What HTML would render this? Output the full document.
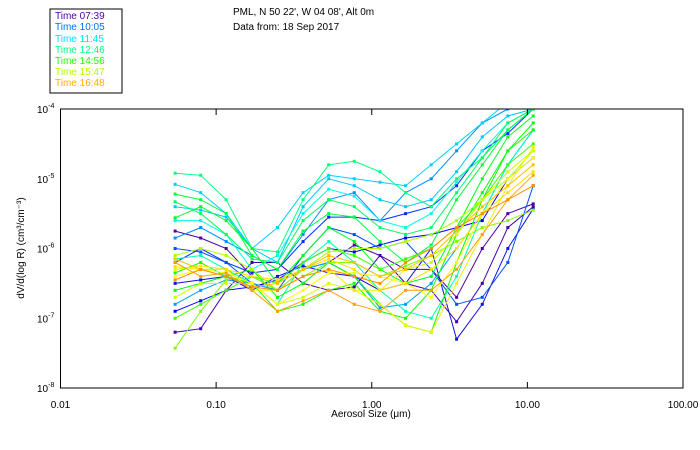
<!DOCTYPE html>
<html><head><meta charset="utf-8"><style>
body{margin:0;background:#fff;width:700px;height:450px;overflow:hidden}
svg{display:block;font-family:"Liberation Sans",sans-serif}
</style></head><body>
<svg id="chart" width="700" height="450">
<rect x="50" y="9" width="72" height="84" fill="none" stroke="#000"/>
<g font-size="10">
<text x="55" y="19" fill="#5000a0">Time 07:39</text>
<text x="55" y="30" fill="#0070ff">Time 10:05</text>
<text x="55" y="42" fill="#00e0ff">Time 11:45</text>
<text x="55" y="53" fill="#00ff80">Time 12:46</text>
<text x="55" y="64" fill="#20ff00">Time 14:56</text>
<text x="55" y="75" fill="#b0ff00">Time 15:47</text>
<text x="55" y="86" fill="#ffb000">Time 16:48</text>
</g>
<text x="233" y="15" font-size="10">PML, N 50 22', W 04 08', Alt 0m</text>
<text x="233" y="30" font-size="10">Data from: 18 Sep 2017</text>
<text transform="translate(24,248) rotate(-90)" text-anchor="middle" font-size="10">dV/d(log R) (cm³/cm⁻³)</text>
<text x="371" y="417" text-anchor="middle" font-size="10">Aerosol Size (μm)</text>
<defs><clipPath id="pc"><rect x="60" y="109" width="623" height="279"/></clipPath></defs>
<g id="series" clip-path="url(#pc)"></g>
<g id="axes"></g>
</svg>
<script>
const xTicks=[0.01,0.1,1,10,100];
const xTickLabels=["0.01","0.10","1.00","10.00","100.00"];
const yTicks=[-4,-5,-6,-7,-8];
const sizes=[0.0545,0.0796,0.116,0.170,0.248,0.362,0.529,0.772,1.13,1.65,2.41,3.51,5.13,7.49,10.9];
const colors=["#5000a0","#4000b0","#0000ff","#1010e0","#0030ff","#0050ff","#0090ff","#00a0ff","#00d0ff","#00c8ff","#00ffe0","#00ffb0","#00ff80","#00ff60","#00ff40","#00ff20","#00ff00","#10ff00","#40ff00","#80ff00","#b0ff00","#d0ff00","#ffff00","#f0f000","#ffe000","#ffc000","#ffa000","#ff9000"];
const s01=[-5.75,-5.85,-6.0,-6.4,-6.6,-6.3,-6.2,-5.95,-6.1,-6.3,-6.3,-6.7,-6.0,-5.5,-5.36];
const s02=[-7.2,-7.15,-6.6,-6.2,-6.2,-6.5,-6.6,-6.55,-6.1,-6.5,-6.6,-7.05,-6.5,-5.7,-5.4];
const s03=[-6.9,-6.75,-6.6,-6.55,-6.45,-6.2,-6.0,-6.05,-5.95,-5.85,-5.8,-5.7,-5.6,-5.0,-4.7];
const s04=[-6.5,-6.45,-6.4,-6.6,-6.4,-6.25,-6.35,-6.4,-6.6,-6.5,-6.0,-7.3,-6.8,-6.0,-5.43];
const s05=[-6.2,-6.0,-6.2,-6.35,-6.3,-5.9,-5.55,-5.55,-5.6,-5.5,-5.4,-5.1,-4.6,-4.35,-4.0];
const s06=[-6.0,-6.05,-6.2,-6.5,-6.6,-6.1,-5.7,-5.8,-6.0,-5.9,-6.3,-6.8,-6.7,-6.2,-5.1];
const s07=[-5.85,-5.7,-5.9,-6.1,-6.3,-5.8,-5.3,-5.2,-5.6,-5.2,-5.0,-4.6,-4.2,-4.0,-4.0];
const s08=[-6.8,-6.6,-6.45,-6.5,-6.6,-6.3,-6.2,-6.4,-6.85,-6.8,-6.5,-6.0,-5.5,-4.8,-4.3];
const s09=[-5.08,-5.2,-5.5,-6.0,-5.7,-5.2,-4.95,-5.0,-5.05,-5.1,-4.8,-4.5,-4.2,-3.9,-3.8];
const s10=[-5.4,-5.45,-5.55,-6.0,-6.2,-5.4,-5.0,-5.1,-5.3,-5.4,-5.3,-4.9,-4.4,-4.1,-4.0];
const s11=[-5.6,-5.6,-5.8,-6.3,-6.1,-5.5,-5.15,-5.25,-5.6,-5.7,-5.5,-5.05,-4.6,-4.2,-4.0];
const s12=[-6.15,-6.1,-6.3,-6.5,-6.8,-6.2,-5.9,-6.2,-6.6,-6.9,-7.0,-6.4,-5.5,-4.8,-4.3];
const s13=[-4.92,-4.95,-5.3,-6.0,-6.05,-5.3,-4.8,-4.75,-4.9,-5.2,-5.4,-5.0,-4.7,-4.3,-4.0];
const s14=[-5.33,-5.5,-5.8,-6.15,-6.2,-5.6,-5.3,-5.4,-5.7,-5.8,-5.7,-5.2,-4.7,-4.2,-4.0];
const s15=[-5.22,-5.3,-5.5,-6.1,-6.3,-5.75,-5.5,-5.55,-5.9,-6.2,-5.95,-5.3,-4.8,-4.3,-4.0];
const s16=[-5.56,-5.4,-5.6,-6.0,-6.5,-6.1,-5.7,-5.9,-6.3,-6.5,-6.4,-5.7,-5.0,-4.4,-4.1];
const s17=[-6.6,-6.5,-6.4,-6.3,-6.7,-6.5,-6.2,-6.4,-6.8,-7.1,-7.2,-6.2,-5.3,-4.6,-4.2];
const s18=[-6.35,-6.2,-6.4,-6.5,-6.9,-6.8,-6.6,-6.5,-6.9,-7.0,-6.6,-5.8,-5.2,-4.6,-4.3];
const s19=[-7.0,-6.8,-6.6,-6.4,-6.5,-6.2,-6.0,-6.1,-6.3,-6.15,-6.0,-5.7,-5.3,-4.8,-4.5];
const s20=[-7.43,-6.9,-6.45,-6.4,-6.6,-6.4,-6.2,-6.2,-6.4,-6.25,-6.1,-5.9,-5.7,-5.6,-5.45];
const s21=[-6.1,-6.0,-6.1,-6.3,-6.6,-6.3,-6.05,-6.0,-6.0,-5.9,-5.8,-5.6,-5.3,-5.0,-4.6];
const s22=[-6.7,-6.5,-6.5,-6.5,-6.8,-6.7,-6.5,-6.6,-6.6,-6.3,-6.2,-5.8,-5.3,-4.9,-4.6];
const s23=[-6.4,-6.3,-6.35,-6.5,-6.8,-6.6,-6.35,-6.35,-6.4,-6.5,-6.7,-6.2,-5.5,-5.0,-4.7];
const s24=[-6.3,-6.25,-6.3,-6.6,-6.6,-6.4,-6.3,-6.6,-6.8,-7.1,-7.2,-6.5,-5.8,-5.1,-4.55];
const s25=[-6.26,-6.3,-6.3,-6.4,-6.45,-6.3,-6.15,-6.3,-6.6,-6.5,-6.3,-6.0,-5.5,-5.2,-4.9];
const s26=[-6.15,-6.3,-6.4,-6.55,-6.5,-6.3,-6.1,-6.2,-6.4,-6.3,-6.1,-5.75,-5.4,-5.1,-4.8];
const s27=[-6.2,-6.4,-6.35,-6.6,-6.9,-6.75,-6.6,-6.8,-6.9,-6.6,-6.6,-6.3,-5.8,-5.3,-4.95];
const s28=[-6.45,-6.3,-6.4,-6.55,-6.6,-6.4,-6.3,-6.4,-6.5,-6.2,-6.0,-5.7,-5.5,-5.3,-5.1];
const seriesLog=[s01,s02,s03,s04,s05,s06,s07,s08,s09,s10,s11,s12,s13,s14,s15,s16,s17,s18,s19,s20,s21,s22,s23,s24,s25,s26,s27,s28];

const X0=60.5,X1=683,Y0=109,Y1=388;
function xs(v){return X0+(Math.log10(v)+2)/4*(X1-X0);}
function ys(l){return Y0+(-4-l)/4*(Y1-Y0);}
const NS="http://www.w3.org/2000/svg";
function mk(t,a){const e=document.createElementNS(NS,t);for(const k in a)e.setAttribute(k,a[k]);return e;}
const sg=document.getElementById('series'),ax=document.getElementById('axes');
seriesLog.forEach((s,i)=>{
  const g=mk('g',{});
  
  
  const pts=s.map((v,j)=>xs(sizes[j]).toFixed(1)+','+ys(v).toFixed(1)).join(' ');
  const pl=mk('polyline',{points:pts,fill:'none',stroke:colors[i],'stroke-width':1});
  
  
  g.appendChild(pl);
  s.forEach((v,j)=>{
    const r=mk('rect',{x:xs(sizes[j])-1.5,y:ys(v)-1.5,width:3,height:3,fill:colors[i]});
    
    
    g.appendChild(r);
  });
  sg.appendChild(g);
});
const frame=mk('rect',{x:X0,y:Y0,width:X1-X0,height:Y1-Y0,fill:'none',stroke:'#000','stroke-width':1});


ax.appendChild(frame);
xTicks.forEach((t,i)=>{
  const x=xs(t);
  const a=mk('line',{x1:x,x2:x,y1:Y1,y2:Y1-6,stroke:'#000'});
  
  
  ax.appendChild(a);
  const b=mk('line',{x1:x,x2:x,y1:Y0,y2:Y0+6,stroke:'#000'});
  
  
  ax.appendChild(b);
  const tx=mk('text',{x:x,y:408,'text-anchor':'middle','font-size':10});
  
  
  tx.textContent=xTickLabels[i];
  ax.appendChild(tx);
});
yTicks.forEach(t=>{
  const y=ys(t);
  const tx=mk('text',{x:37,y:y+4,'font-size':10});
  
  
  tx.textContent='10';
  const sp=mk('tspan',{dy:-5,'font-size':7});
  sp.textContent=String(t);
  tx.appendChild(sp);
  ax.appendChild(tx);
});
</script>
</body></html>
